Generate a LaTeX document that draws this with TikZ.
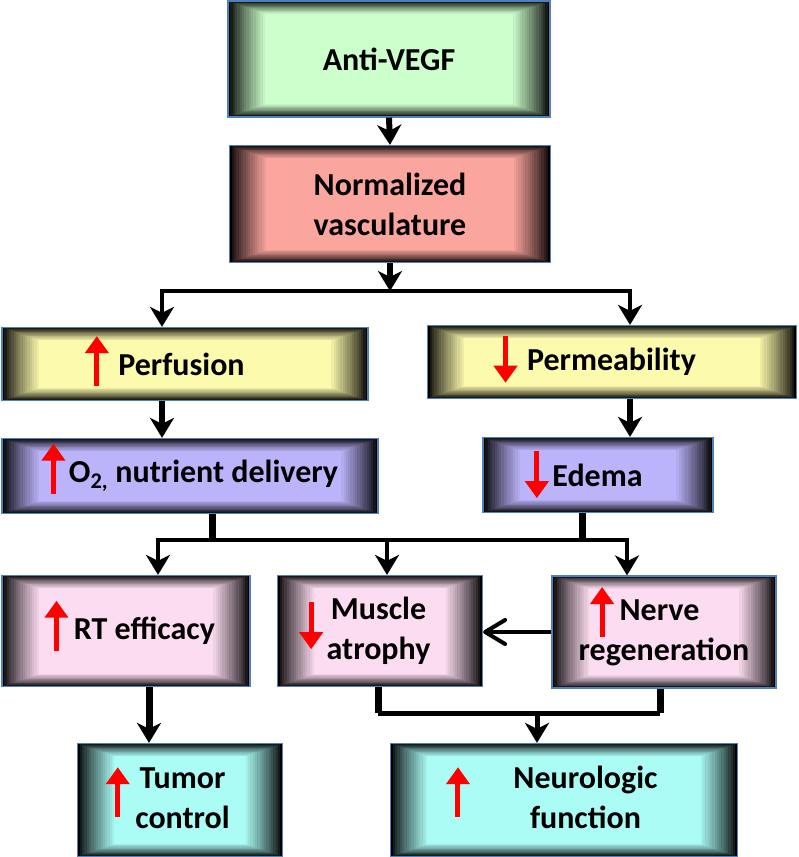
\documentclass[tikz,border=0pt]{standalone}
\usepackage{fontspec}
\setmainfont{Carlito}
\usetikzlibrary{arrows.meta,calc}
\definecolor{boxblue}{RGB}{79,129,189}
\definecolor{vegfgreen}{RGB}{204,255,204}
\definecolor{normred}{RGB}{250,165,158}
\definecolor{perfyellow}{RGB}{252,250,172}
\definecolor{deliverypurple}{RGB}{188,180,250}
\definecolor{effectpink}{RGB}{252,220,240}
\definecolor{outcomecyan}{RGB}{170,252,245}
\tikzset{
  redarr/.style={red,line width=5pt,-{Triangle[length=17pt,width=23pt]}},
  gbox/.style={draw=boxblue,line width=1.2pt,fill=#1,inner sep=0pt,align=center,
    font=\fontsize{32}{40}\selectfont\bfseries,
    path picture={
      \foreach \i in {0,...,16}{
        \pgfmathsetmacro\mixp{100*(\i/16)^0.8}
        \pgfmathsetmacro\dx{2.3*\i}
        \pgfmathsetmacro\dy{0.8*\i}
        \fill[#1!\mixp!black] ($(path picture bounding box.south west)+(\dx pt,\dy pt)$)
          rectangle ($(path picture bounding box.north east)-(\dx pt,\dy pt)$);
      }}},
}
\newcommand{\uparr}[1][0]{\smash{\tikz[baseline=#1pt]\draw[redarr] (0pt,-11pt) -- (0pt,39pt);}}
\newcommand{\downarr}{\smash{\tikz[baseline=0pt]\draw[redarr] (0pt,35pt) -- (0pt,-12pt);}}
\begin{document}
\begin{tikzpicture}[x=1pt,y=-1pt,
    arr/.style={line width=6pt,-{Stealth[length=20pt,width=24pt,inset=6pt]}},
    conn/.style={line width=4pt},
    stub/.style={line width=7pt},
    barb/.style={line width=4pt,-{Straight Barb[length=20pt,width=24pt,line cap=round,line join=round]}}]
  \useasboundingbox (0,0) rectangle (799,857);
  % boxes
  \node[gbox=vegfgreen,minimum width=322pt,minimum height=116pt] (avegf) at (389,59) {Anti-VEGF};
  \node[gbox=normred,minimum width=321pt,minimum height=117pt] (norm) at (390,204) {Normalized\\vasculature};
  \node[gbox=perfyellow,minimum width=366pt,minimum height=73pt] (perf) at (185,364) {\uparr\hspace{10pt}Perfusion\hspace{40pt}};
  \node[gbox=perfyellow,minimum width=369pt,minimum height=73pt] (perm) at (612,362) {\downarr\hspace{10pt}Permeability\hspace{34pt}};
  \node[gbox=deliverypurple,minimum width=376pt,minimum height=75pt] (otwo) at (190,476) {\uparr\hspace{4pt}O\textsubscript{2,} nutrient delivery};
  \node[gbox=deliverypurple,minimum width=230pt,minimum height=75pt] (edema) at (598,475) {\downarr\hspace{4pt}Edema\hspace{28pt}};
  \node[gbox=effectpink,minimum width=248pt,minimum height=111pt] (rt) at (126,631) {\hspace{8pt}\uparr\hspace{6pt}RT efficacy};
  \node[gbox=effectpink,minimum width=205pt,minimum height=111pt] (muscle) at (380,631) {\downarr\hspace{4pt}\begin{tabular}{@{}c@{}}Muscle\\atrophy\end{tabular}\hspace{30pt}};
  \node[gbox=effectpink,minimum width=224pt,minimum height=112pt] (nerve) at (664,632) {\begin{tabular}{@{}c@{}}\uparr[6]\hspace{6pt}Nerve\hspace{38pt}\mbox{}\\regeneration\end{tabular}};
  \node[gbox=outcomecyan,minimum width=205pt,minimum height=113pt] (tumor) at (180,800) {\uparr\hspace{6pt}\begin{tabular}{@{}c@{}}Tumor\\control\end{tabular}\hspace{24pt}};
  \node[gbox=outcomecyan,minimum width=347pt,minimum height=113pt] (neuro) at (564,800) {\uparr\hspace{44pt}\begin{tabular}{@{}c@{}}Neurologic\\function\end{tabular}\hspace{24pt}};
  % connectors
  \coordinate (split1) at (390,291);
  \coordinate (left1) at (162,291);
  \coordinate (right1) at (630,291);
  \coordinate (stubo) at (212,540);
  \coordinate (stube) at (582,540);
  \coordinate (mid2) at (387,540);
  \coordinate (left2) at (158,540);
  \coordinate (right2) at (627,540);
  \coordinate (rtdown) at (149,700);
  \coordinate (mstub) at (378,713);
  \coordinate (nstub) at (660,713);
  \coordinate (mid3) at (537,713);
  \draw[arr] (avegf.south) -- (norm.north);
  \draw[arr] (norm.south) -- (split1);
  \draw[arr,line width=4pt] (split1) -- (left1) -- (left1 |- perf.north);
  \draw[arr,line width=4pt] (split1) -- (right1) -- (right1 |- perm.north);
  \draw[arr] (perf.south -| left1) -- (otwo.north -| left1);
  \draw[arr] (perm.south -| right1) -- (edema.north -| right1);
  \draw[stub] (otwo.south -| stubo) -- (stubo);
  \draw[stub] (edema.south -| stube) -- (stube);
  \draw[arr,line width=4pt] (mid2) -- (left2) -- (left2 |- rt.north);
  \draw[arr,line width=4pt] (mid2) -- (right2) -- (right2 |- nerve.north);
  \draw[arr,line width=4pt] (mid2) -- (mid2 |- muscle.north);
  \draw[barb] (nerve.west) -- (nerve.west -| muscle.east);
  \draw[arr,line width=7pt] (rt.south -| rtdown) -- (tumor.north -| rtdown);
  \draw[stub] (muscle.south -| mstub) -- (mstub);
  \draw[stub] (nerve.south -| nstub) -- (nstub);
  \draw[conn,line width=5pt] (mstub) -- (nstub);
  \draw[arr,line width=5pt] (mid3) -- (neuro.north -| mid3);
\end{tikzpicture}
\end{document}
